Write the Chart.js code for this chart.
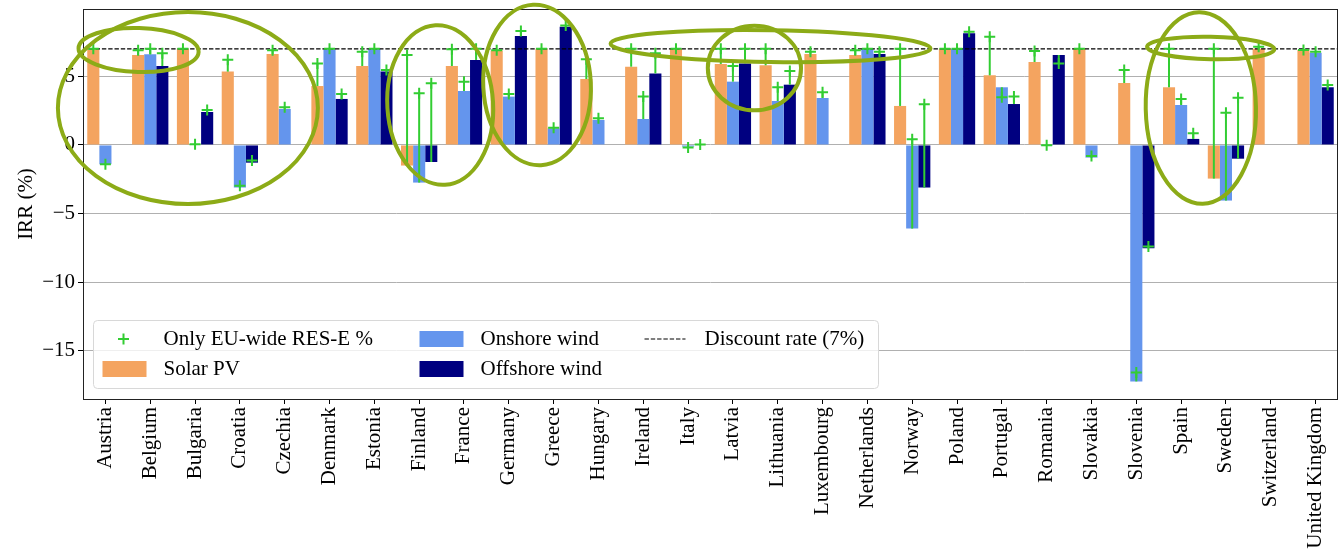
<!DOCTYPE html>
<html>
<head>
<meta charset="utf-8">
<script src="https://cdn.jsdelivr.net/npm/chart.js@4.4.1/dist/chart.umd.min.js"></script>
<style>
  html, body { margin: 0; padding: 0; background: #fff; }
  #wrap { width: 1340px; height: 549px; }
</style>
</head>
<body>
<div id="wrap"><canvas id="irrChart" width="1340" height="549"></canvas></div>
<script>
const countries = [
  "Austria", "Belgium", "Bulgaria", "Croatia", "Czechia", "Denmark", "Estonia",
  "Finland", "France", "Germany", "Greece", "Hungary", "Ireland", "Italy",
  "Latvia", "Lithuania", "Luxembourg", "Netherlands", "Norway", "Poland",
  "Portugal", "Romania", "Slovakia", "Slovenia", "Spain", "Sweden",
  "Switzerland", "United Kingdom"
];

// IRR (%) per technology
const solarPV = [6.96, 6.55, 7.0, 5.34, 6.62, 4.29, 5.75, -1.5, 5.75, 6.87, 7.0, 4.8, 5.7, 7.0,
  5.9, 5.8, 6.62, 6.55, 2.84, 7.0, 5.07, 6.04, 7.0, 4.51, 4.2, -2.45, 7.0, 6.91];
const onshoreWind = [-1.4, 6.6, 0, -3.1, 2.62, 6.96, 7.0, -2.74, 3.93, 3.52, 1.21, 1.82, 1.89, -0.12,
  4.61, 3.2, 3.42, 7.0, -6.09, 7.0, 4.2, -0.07, -0.92, -17.22, 2.91, -4.05, null, 6.72];
const offshoreWind = [null, 5.75, 2.4, -1.29, null, 3.35, 5.34, -1.24, 6.19, 7.93, 8.61, null, 5.21, 0,
  5.94, 4.39, null, 6.62, -3.1, 8.13, 2.98, 6.55, null, -7.52, 0.44, -1.0, null, 4.2];

// IRR (%) with only the EU-wide RES-E share
const solarEU = [7.0, 6.9, 7.0, 6.2, 6.9, 5.94, 6.79, 6.55, 6.96, 6.9, 7.0, 6.24, 7.0, 7.0,
  7.0, 7.0, 6.79, 6.9, 7.0, 7.0, 7.88, 6.84, 7.0, 5.46, 7.0, 7.0, 7.16, 6.91];
const onshoreEU = [-1.4, 7.0, 0.05, -2.98, 2.74, 7.0, 7.0, 3.76, 4.61, 3.71, 1.26, 1.94, 3.52, -0.19,
  5.75, 4.2, 3.83, 7.0, 0.41, 7.0, 3.47, -0.03, -0.8, -16.57, 3.35, 2.35, null, 6.79];
const offshoreEU = [null, 6.67, 2.55, -1.14, null, 3.71, 5.46, 4.49, 7.0, 8.3, 8.7, null, 6.67, 0.03,
  7.0, 5.39, null, 6.79, 2.96, 8.25, 3.52, 5.94, null, -7.4, 0.85, 3.44, null, 4.37];

const discountRate = 7;
const yTicks = [-15, -10, -5, 0, 5];

// hand-drawn highlight rings: [category index, IRR, half width (categories), half height (IRR), tilt]
const rings = [
  [1.84, 2.69, 2.90, 6.99, 0.0],
  [0.74, 6.91, 1.34, 1.60, 0.03],
  [7.47, 2.91, 1.18, 5.82, -0.06],
  [9.63, 4.37, 1.20, 5.85, -0.05],
  [14.84, 7.2, 3.57, 1.16, 0.015],
  [14.48, 5.6, 1.04, 3.08, 0.0],
  [24.44, 2.69, 1.23, 6.98, -0.02],
  [24.66, 7.06, 1.42, 0.82, 0.02]
];

const FONT = "Liberation Serif";
const barSeries = [solarPV, onshoreWind, offshoreWind];
const euSeries = [solarEU, onshoreEU, offshoreEU];
const colors = ["#f4a460", "#6495ed", "#000080"];
const green = "#32cd32";
const ringColor = "#8cab17";

function plus(ctx, x, y, r) {
  ctx.beginPath();
  ctx.moveTo(x - r, y); ctx.lineTo(x + r, y);
  ctx.moveTo(x, y - r); ctx.lineTo(x, y + r);
  ctx.stroke();
}

const overlay = {
  id: "overlay",
  afterDatasetsDraw(chart) {
    const { ctx, chartArea: a, scales: { y } } = chart;
    ctx.save();
    // discount rate line
    ctx.strokeStyle = "#000";
    ctx.lineWidth = 1.2;
    ctx.setLineDash([4.4, 1.9]);
    const yd = y.getPixelForValue(discountRate);
    ctx.beginPath(); ctx.moveTo(a.left, yd); ctx.lineTo(a.right, yd); ctx.stroke();
    ctx.setLineDash([]);

    // EU-only markers joined to bar ends
    ctx.strokeStyle = green;
    ctx.lineWidth = 2;
    euSeries.forEach((vals, di) => {
      const meta = chart.getDatasetMeta(di);
      vals.forEach((v, j) => {
        if (v === null) return;
        const bar = meta.data[j];
        if (!bar) return;
        const px = bar.x;
        const py = y.getPixelForValue(v);
        const pb = y.getPixelForValue(barSeries[di][j] ?? 0);
        ctx.beginPath(); ctx.moveTo(px, pb); ctx.lineTo(px, py); ctx.stroke();
        plus(ctx, px, py, 5.5);
      });
    });

    // frame
    ctx.strokeStyle = "#222";
    ctx.lineWidth = 1;
    ctx.strokeRect(a.left + 0.5, a.top + 0.5, a.right - a.left - 1, a.bottom - a.top);
    ctx.restore();
  },
  afterDraw(chart) {
    const { ctx, chartArea: a, scales: { x, y } } = chart;
    ctx.save();

    // legend
    const bx = a.left + 10.5, by = a.bottom - 78.5, bw = 785, bh = 68;
    ctx.fillStyle = "rgba(255,255,255,0.8)";
    ctx.strokeStyle = "#d8d8d8";
    ctx.lineWidth = 1;
    ctx.beginPath();
    ctx.roundRect(bx, by, bw, bh, 4);
    ctx.fill(); ctx.stroke();

    const r1 = by + 18.5, r2 = by + 48.5;
    ctx.strokeStyle = green; ctx.lineWidth = 2;
    plus(ctx, bx + 30, r1, 5.5);
    ctx.fillStyle = colors[0]; ctx.fillRect(bx + 9, r2 - 8, 44, 16);
    ctx.fillStyle = colors[1]; ctx.fillRect(bx + 326, r1 - 8, 44, 16);
    ctx.fillStyle = colors[2]; ctx.fillRect(bx + 326, r2 - 8, 44, 16);
    ctx.strokeStyle = "#000"; ctx.lineWidth = 1.2; ctx.setLineDash([4.4, 1.9]);
    ctx.beginPath(); ctx.moveTo(bx + 551, r1); ctx.lineTo(bx + 592, r1); ctx.stroke();
    ctx.setLineDash([]);

    ctx.fillStyle = "#000";
    ctx.font = "21px '" + FONT + "'";
    ctx.textBaseline = "middle";
    ctx.textAlign = "left";
    ctx.fillText("Only EU-wide RES-E %", bx + 70, r1);
    ctx.fillText("Solar PV", bx + 70, r2);
    ctx.fillText("Onshore wind", bx + 387, r1);
    ctx.fillText("Offshore wind", bx + 387, r2);
    ctx.fillText("Discount rate (7%)", bx + 611, r1);

    // highlight rings
    const step = x.getPixelForValue(1) - x.getPixelForValue(0);
    const unit = Math.abs(y.getPixelForValue(1) - y.getPixelForValue(0));
    ctx.strokeStyle = ringColor;
    ctx.lineWidth = 4;
    rings.forEach(([c, v, rx, ry, rot]) => {
      ctx.beginPath();
      ctx.ellipse(x.getPixelForValue(c), y.getPixelForValue(v), rx * step, ry * unit, rot, 0, Math.PI * 2);
      ctx.stroke();
    });
    ctx.restore();
  }
};

const font = { family: FONT, size: 21 };

new Chart(document.getElementById("irrChart").getContext("2d"), {
  type: "bar",
  data: {
    labels: countries,
    datasets: [
      { label: "Solar PV", data: solarPV, backgroundColor: colors[0] },
      { label: "Onshore wind", data: onshoreWind, backgroundColor: colors[1] },
      { label: "Offshore wind", data: offshoreWind, backgroundColor: colors[2] }
    ]
  },
  options: {
    responsive: false,
    devicePixelRatio: 1,
    animation: false,
    layout: { padding: { top: 9, right: 2, left: 0, bottom: 0 } },
    datasets: { bar: { categoryPercentage: 0.81, barPercentage: 1.0, borderWidth: 0 } },
    plugins: { legend: { display: false }, tooltip: { enabled: false } },
    scales: {
      x: {
        offset: true,
        grid: { display: true, drawOnChartArea: false, drawTicks: true, offset: false,
                tickLength: 5, tickColor: "#000", tickWidth: 1 },
        border: { display: false },
        ticks: { autoSkip: false, minRotation: 90, maxRotation: 90, padding: 3, color: "#000", font },
        afterFit: (s) => { s.height = 150; s.paddingLeft = 0; s.paddingRight = 0; }
      },
      y: {
        min: -18.5,
        max: 9.9,
        afterBuildTicks: (s) => { s.ticks = yTicks.map((v) => ({ value: v })); },
        grid: { color: "#b0b0b0", lineWidth: 1, drawTicks: true, tickLength: 5, tickColor: "#000" },
        border: { display: false },
        ticks: {
          padding: 3, color: "#000", font,
          callback: (v) => String(v).replace("-", "\u2212")
        },
        title: { display: true, text: "IRR (%)", color: "#000", font, padding: { top: 14, bottom: 0 } },
        afterFit: (s) => { s.width = 83; s.paddingTop = 0; s.paddingBottom = 0; }
      }
    }
  },
  plugins: [overlay]
});
</script>
</body>
</html>
